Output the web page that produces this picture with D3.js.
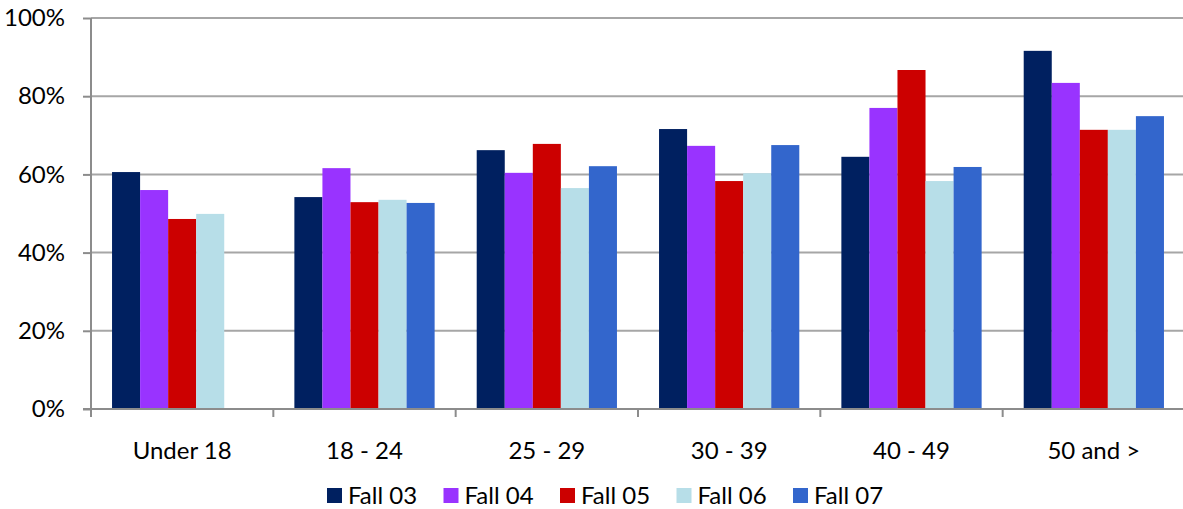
<!DOCTYPE html>
<html><head><meta charset="utf-8">
<script src="https://cdn.jsdelivr.net/npm/d3@7"></script>
<style>body{margin:0;background:#fff}svg{display:block}text{font-family:Lato,"Open Sans",sans-serif;fill:#000}</style>
</head><body><svg id="c" width="1183" height="509"></svg>
<script>
const categories = ["Under 18","18 - 24","25 - 29","30 - 39","40 - 49","50 and >"];
const seriesNames = ["Fall 03","Fall 04","Fall 05","Fall 06","Fall 07"];
const fall03 = [60.6,54.2,66.2,71.6,64.5,91.6];
const fall04 = [56.0,61.6,60.4,67.3,77.0,83.4];
const fall05 = [48.6,52.9,67.8,58.3,86.7,71.4];
const fall06 = [49.9,53.5,56.5,60.3,58.3,71.4];
const fall07 = [null,52.7,62.1,67.5,61.9,74.9];
const yTicks = [0,20,40,60,80,100];
const colors = ["#002060","#9933FF","#CC0000","#B7DEE8","#3366CC"];
const seriesValues = [fall03,fall04,fall05,fall06,fall07];

const svg = d3.select("#c");
const L=91, R=1185, T=18, B=409;
const FS = 24;
const x = d3.scaleBand().domain(categories).range([L,R]).paddingInner(0).paddingOuter(0);
const inner = d3.scaleBand().domain(seriesNames).range([0,x.bandwidth()]).paddingInner(0).paddingOuter(0.75);
const y = d3.scaleLinear().domain([0,100]).range([B,T]);

// gridlines
svg.append("g").selectAll("line").data(yTicks.filter(d=>d>0)).join("line")
  .attr("x1",L).attr("x2",R).attr("y1",d=>y(d)).attr("y2",d=>y(d))
  .attr("stroke","#A6A6A6").attr("stroke-width",2);

// bars
seriesNames.forEach((s,i)=>{
  svg.append("g").attr("fill",colors[i]).selectAll("rect")
    .data(categories.map((c,j)=>({c,v:seriesValues[i][j]})).filter(d=>d.v!=null))
    .join("rect")
    .attr("x",d=>x(d.c)+inner(s)).attr("width",inner.bandwidth())
    .attr("y",d=>y(d.v)).attr("height",d=>y(0)-y(d.v));
});

// y axis
const ya = svg.append("g").attr("transform",`translate(${L},0)`)
  .call(d3.axisLeft(y).tickValues(yTicks).tickFormat(d=>d+"%").tickSize(8).tickPadding(18));
ya.select(".domain").attr("stroke","#8C8C8C").attr("stroke-width",2).attr("d",`M0,${T}V${B+8}`);
ya.selectAll(".tick line").attr("stroke","#8C8C8C").attr("stroke-width",2);
ya.selectAll("text").attr("font-size",FS).attr("font-family","Lato").attr("fill","#000");

// x axis
const xa = svg.append("g").attr("transform",`translate(0,${B})`)
  .call(d3.axisBottom(x).tickSize(0).tickPadding(33));
xa.select(".domain").attr("stroke","#8C8C8C").attr("stroke-width",2).attr("d",`M${L-8},0H${R}`);
xa.selectAll("text").attr("font-size",FS).attr("font-family","Lato").attr("fill","#000");
svg.append("g").selectAll("line").data(d3.range(categories.length+1)).join("line")
  .attr("x1",i=>L+i*x.bandwidth()).attr("x2",i=>L+i*x.bandwidth())
  .attr("y1",B).attr("y2",B+8).attr("stroke","#8C8C8C").attr("stroke-width",2);

// legend
const lg = svg.append("g");
seriesNames.forEach((s,i)=>{
  const gx = 327 + i*116.5;
  lg.append("rect").attr("x",gx).attr("y",488).attr("width",15).attr("height",15).attr("fill",colors[i]);
  lg.append("text").attr("x",gx+21).attr("y",496).attr("dy","0.35em").attr("font-size",FS).text(s);
});
</script></body></html>
